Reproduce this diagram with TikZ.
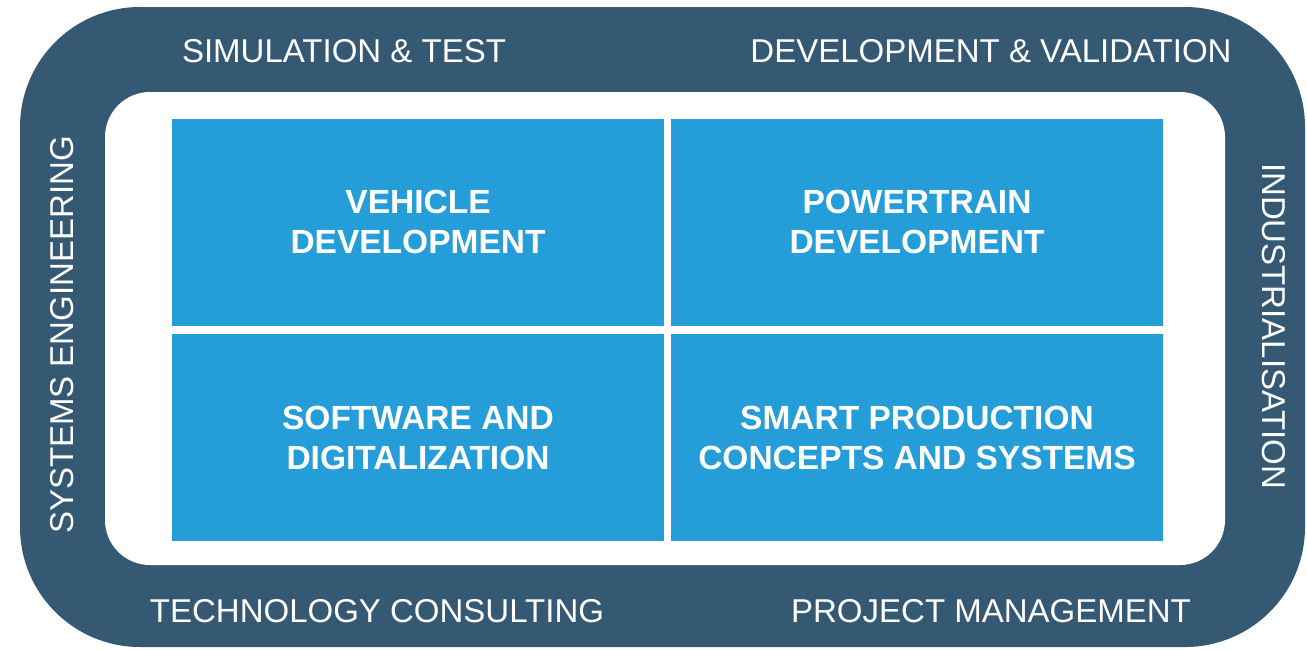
\documentclass[tikz,border=0pt]{standalone}
\usepackage{fontspec}
\setmainfont{Liberation Sans}
\usepackage{tikz}
\definecolor{frame}{RGB}{53,89,114}
\definecolor{tileblue}{RGB}{37,157,216}

\begin{document}
\begin{tikzpicture}[x=1pt,y=-1pt,
  ring/.style={text=white,font=\fontsize{33}{36}\selectfont,anchor=base},
  tile/.style={fill=tileblue,text=white,align=center,inner sep=0pt,
    minimum width=492pt,minimum height=207pt,
    font=\fontsize{33.5}{40}\selectfont\bfseries}]
  \useasboundingbox (0,0) rectangle (1307,649);
  \fill[frame,rounded corners=120pt] (20,7) rectangle (1305,647);
  \fill[white,rounded corners=45pt] (105,92) rectangle (1225,565);
  \node[tile] (veh) at (418,222) {VEHICLE\\DEVELOPMENT};
  \node[tile] (pow) at (917,222) {POWERTRAIN\\DEVELOPMENT};
  \node[tile] (soft) at (418,437.5) {SOFTWARE AND\\DIGITALIZATION};
  \node[tile] (prod) at (917,437.5) {SMART PRODUCTION\\CONCEPTS AND SYSTEMS};
  \node[ring] (sim) at (344,62) {SIMULATION \& TEST};
  \node[ring] (dev) at (991,62) {DEVELOPMENT \& VALIDATION};
  \node[ring] (tech) at (377,622) {TECHNOLOGY CONSULTING};
  \node[ring] (proj) at (991,622) {PROJECT MANAGEMENT};
  \node[ring,rotate=90] (sys) at (73,335) {SYSTEMS ENGINEERING};
  \node[ring,rotate=-90] (ind) at (1262,326) {INDUSTRIALISATION};
\end{tikzpicture}
\end{document}
